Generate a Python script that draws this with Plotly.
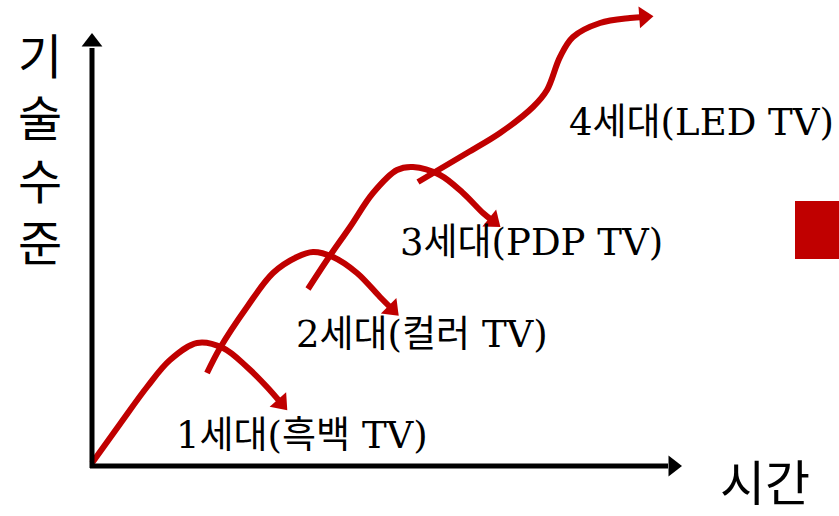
import plotly.graph_objects as go

# Technology generations of the TV: each curve rises, peaks and is overtaken
generations = ["1세대(흑백 TV)", "2세대(컬러 TV)", "3세대(PDP TV)", "4세대(LED TV)"]

# Curve points (time, technology level) for each generation
gen1_time = [0, 28, 55, 78, 105, 131, 155, 175, 189]
gen1_level = [3, 42, 79, 106, 123, 118, 99, 79, 63]

gen2_time = [115, 128, 155, 181, 205, 221, 241, 265, 288, 300]
gen2_level = [93, 118, 159, 193, 209, 214, 209, 193, 169, 157]

gen3_time = [216, 235, 258, 281, 305, 321, 348, 371, 391, 401]
gen3_level = [177, 206, 239, 273, 296, 299, 291, 273, 253, 245]

gen4_time = [326, 375, 408, 441, 455, 468, 481, 508, 538, 552]
gen4_level = [284, 313, 333, 359, 376, 409, 429, 443, 448, 449]

# Label anchor positions (time, level)
label_time = [210, 330, 439, 609]
label_level = [31, 132, 224, 344]

# Axis extents
time_axis_end = 576
level_axis_end = 418

RED = "#C00000"
FONT = "DejaVu Serif, Noto Sans CJK KR"

fig = go.Figure()

curves = [
    (gen1_time, gen1_level),
    (gen2_time, gen2_level),
    (gen3_time, gen3_level),
    (gen4_time, gen4_level),
]

for t, lv in curves:
    fig.add_trace(go.Scatter(
        x=t, y=lv, mode="lines",
        line=dict(color=RED, width=6, shape="spline", smoothing=1.0),
        hoverinfo="skip", showlegend=False,
    ))
    # arrowhead oriented along the last segment
    fig.add_trace(go.Scatter(
        x=t[-2:], y=lv[-2:], mode="markers",
        marker=dict(symbol="triangle-up", size=[0, 19], color=RED, opacity=1,
                    angleref="previous", line=dict(width=0)),
        hoverinfo="skip", showlegend=False,
    ))

# Black axes with arrowheads
fig.add_trace(go.Scatter(
    x=[0, 0], y=[-2, level_axis_end], mode="lines",
    line=dict(color="black", width=5), hoverinfo="skip", showlegend=False,
))
fig.add_trace(go.Scatter(
    x=[-2, time_axis_end], y=[0, 0], mode="lines",
    line=dict(color="black", width=5), hoverinfo="skip", showlegend=False,
))
fig.add_trace(go.Scatter(
    x=[0, 0], y=[level_axis_end - 10, level_axis_end + 6], mode="markers",
    marker=dict(symbol="triangle-up", size=[0, 18], color="black", opacity=1,
                angleref="previous", line=dict(width=0)),
    hoverinfo="skip", showlegend=False,
))
fig.add_trace(go.Scatter(
    x=[time_axis_end - 10, time_axis_end + 5], y=[0, 0], mode="markers",
    marker=dict(symbol="triangle-up", size=[0, 18], color="black", opacity=1,
                angleref="previous", line=dict(width=0)),
    hoverinfo="skip", showlegend=False,
))

# Generation labels
for name, tx, ly in zip(generations, label_time, label_level):
    fig.add_annotation(
        x=tx, y=ly, text=name, showarrow=False,
        xanchor="center", yanchor="middle",
        font=dict(family=FONT, size=37, color="black"),
    )

# Axis titles
fig.add_annotation(
    x=-52, y=316, text="기<br>술<br>수<br>준", showarrow=False,
    xanchor="center", yanchor="middle",
    font=dict(family=FONT, size=48, color="black"),
)
fig.add_annotation(
    x=673, y=-18, text="시간", showarrow=False,
    xanchor="center", yanchor="middle",
    font=dict(family=FONT, size=49, color="black"),
)

# Red marker block at the right edge
fig.add_shape(
    type="rect", x0=703, x1=750, y0=207, y1=265,
    fillcolor=RED, line=dict(width=0), layer="above",
)

fig.update_layout(
    width=839, height=516,
    margin=dict(l=0, r=0, t=0, b=0),
    paper_bgcolor="white", plot_bgcolor="white",
    xaxis=dict(range=[-92, 747], visible=False, fixedrange=True),
    yaxis=dict(range=[-50, 466], visible=False, fixedrange=True),
    showlegend=False,
)

fig.write_html("out.html")
